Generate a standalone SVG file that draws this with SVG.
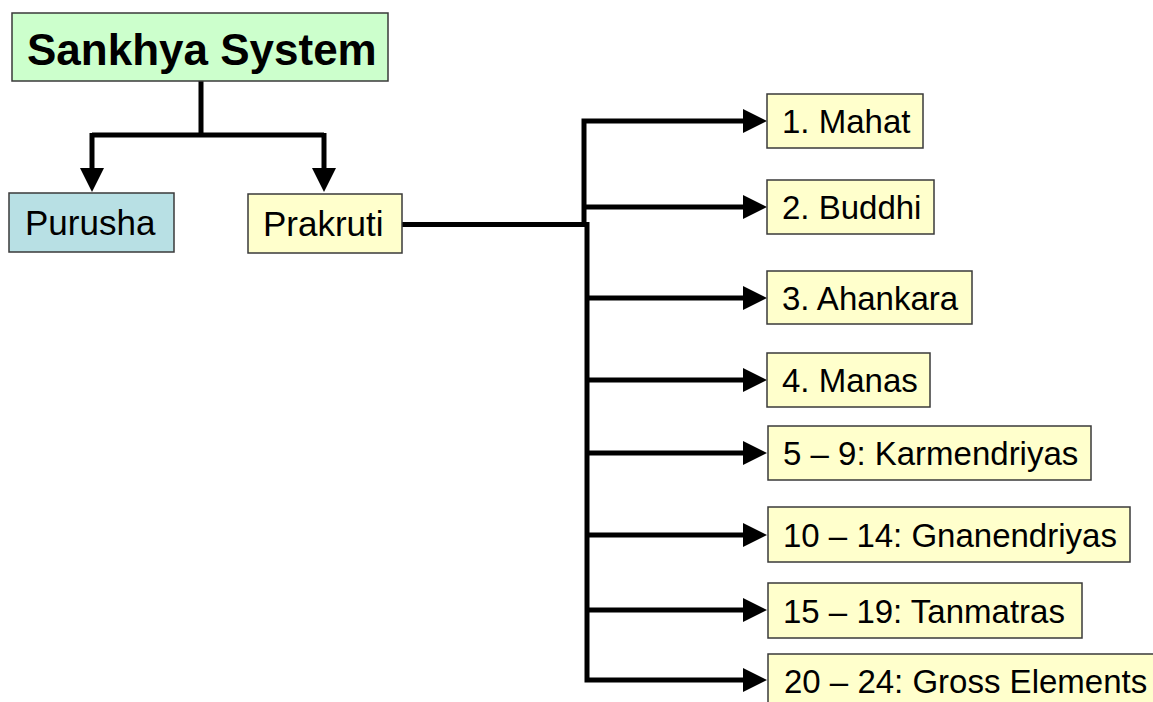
<svg xmlns="http://www.w3.org/2000/svg" width="1153" height="702" viewBox="0 0 1153 702">
<style>
.box{stroke:#3a3a3a;stroke-width:1.5}
.g{fill:#CCFFCC}.b{fill:#B8E0E4}.y{fill:#FFFFCC}
.t{font-family:"Liberation Sans",Arial,sans-serif;fill:#000}
.big{font-size:44px;font-weight:bold}
.mid{font-size:35px}
.lbl{font-size:33px}
.c{fill:none;stroke:#000;stroke-width:5}
</style>
<defs>
<marker id="ah" markerUnits="userSpaceOnUse" markerWidth="24" markerHeight="24" refX="0" refY="12" orient="auto">
<path d="M0,0 L24,12 L0,24 z" fill="#000"/>
</marker>
</defs>
<rect width="1153" height="702" fill="#fff"/>
<g id="connectors">
<path class="c" d="M201 81 V135 M92 135 H324" />
<path class="c" d="M92 133 V168" marker-end="url(#ah)"/>
<path class="c" d="M324 133 V168" marker-end="url(#ah)"/>
<path class="c" d="M402 224.5 H587"/>
<path class="c" d="M584 227 V121 H743" marker-end="url(#ah)"/>
<path class="c" d="M584 207 H743" marker-end="url(#ah)"/>
<path class="c" d="M587 222 V680 H743" marker-end="url(#ah)"/>
<path class="c" d="M587 298 H743" marker-end="url(#ah)"/>
<path class="c" d="M587 380 H743" marker-end="url(#ah)"/>
<path class="c" d="M587 453 H743" marker-end="url(#ah)"/>
<path class="c" d="M587 535 H743" marker-end="url(#ah)"/>
<path class="c" d="M587 610 H743" marker-end="url(#ah)"/>
</g>
<g id="sankhya"><rect class="box g" x="12" y="13" width="376" height="68"/><text class="t big" x="27" y="65">Sankhya System</text></g>
<g id="purusha"><rect class="box b" x="9" y="193" width="165" height="59"/><text class="t mid" x="25" y="235">Purusha</text></g>
<g id="prakruti"><rect class="box y" x="248" y="194" width="154" height="59"/><text class="t mid" x="263" y="236">Prakruti</text></g>
<g id="mahat"><rect class="box y" x="767" y="94" width="156" height="54"/><text class="t lbl" x="782" y="133">1. Mahat</text></g>
<g id="buddhi"><rect class="box y" x="767" y="180" width="167" height="54"/><text class="t lbl" x="782" y="219">2. Buddhi</text></g>
<g id="ahankara"><rect class="box y" x="767" y="271" width="205" height="53"/><text class="t lbl" x="782" y="309.5">3. Ahankara</text></g>
<g id="manas"><rect class="box y" x="767" y="353" width="163" height="54"/><text class="t lbl" x="782" y="392">4. Manas</text></g>
<g id="karmendriyas"><rect class="box y" x="768" y="426" width="323" height="54"/><text class="t lbl" x="783" y="465">5 – 9: Karmendriyas</text></g>
<g id="gnanendriyas"><rect class="box y" x="768" y="507" width="362" height="55"/><text class="t lbl" x="783" y="546.5">10 – 14: Gnanendriyas</text></g>
<g id="tanmatras"><rect class="box y" x="768" y="583" width="314" height="55"/><text class="t lbl" x="783" y="622.5">15 – 19: Tanmatras</text></g>
<g id="gross"><rect class="box y" x="768" y="654" width="400" height="60"/><text class="t lbl" x="784" y="693">20 – 24: Gross Elements</text></g>
</svg>
